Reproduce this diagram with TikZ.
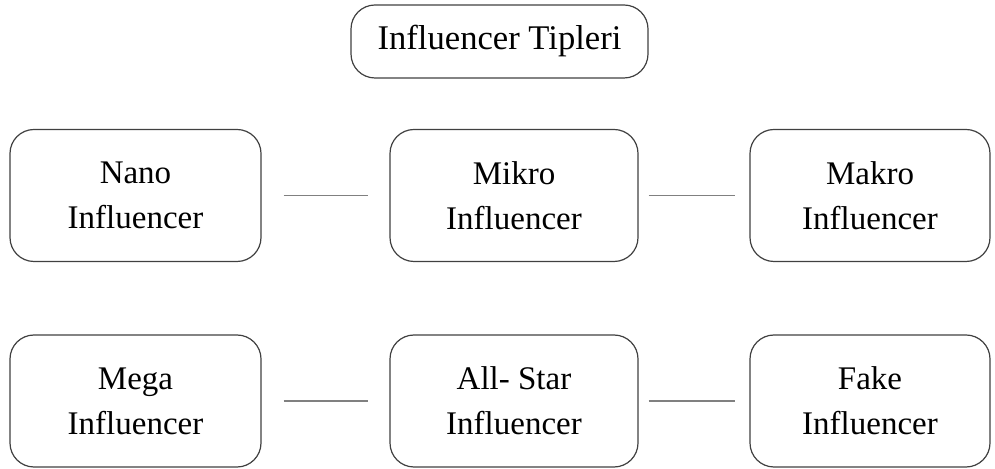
\documentclass[tikz,border=0pt]{standalone}
\usepackage{fontspec}
\setmainfont{Liberation Serif}
\usetikzlibrary{positioning}

\begin{document}
\begin{tikzpicture}[x=0.5pt, y=-0.5pt, font=\fontsize{16.5}{22.5}\selectfont,
            b/.style={draw=black!75, line width=0.6pt, rounded corners=12pt, align=center,
                      minimum height=66pt, inner sep=2pt},
            l/.style={draw=black!50, line width=0.6pt}]
            \useasboundingbox (0,0) rectangle (995,469);
            \node[b, minimum width=148.5pt, minimum height=36.5pt, font=\fontsize{17.3}{22.5}\selectfont] (top) at (499.5,41.5) {Influencer Tipleri};
            \node[b, minimum width=125.5pt] (nano) at (135.5,195.5) {Nano\\Influencer};
            \node[b, minimum width=124pt] (mikro) at (514,195.5) {Mikro\\Influencer};
            \node[b, minimum width=120pt] (makro) at (870,195.5) {Makro\\Influencer};
            \node[b, minimum width=125.5pt] (mega) at (135.5,401) {Mega\\Influencer};
            \node[b, minimum width=124pt] (star) at (514,401) {All- Star\\Influencer};
            \node[b, minimum width=120pt] (fake) at (870,401) {Fake\\Influencer};
            \draw[l, shorten <=11pt, shorten >=10.5pt] (nano)--(mikro);
            \draw[l, shorten <=5pt, shorten >=7pt] (mikro)--(makro);
            \draw[l, shorten <=11pt, shorten >=10.5pt] (mega)--(star);
            \draw[l, shorten <=5pt, shorten >=7pt] (star)--(fake);
        \end{tikzpicture}
\end{document}
